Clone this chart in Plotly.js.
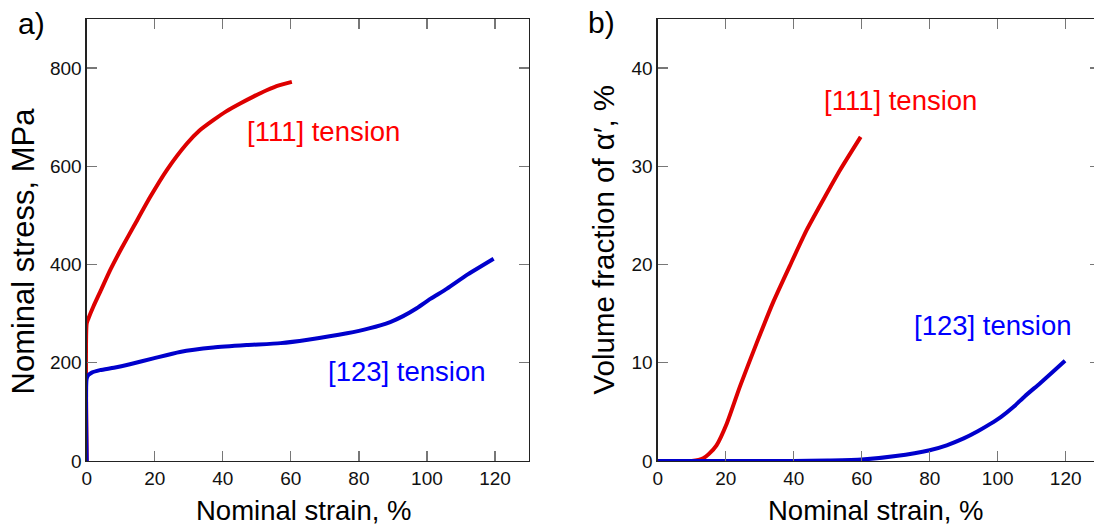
<!DOCTYPE html>
<html>
<head>
<meta charset="utf-8">
<script src="https://cdn.plot.ly/plotly-3.0.1.min.js"></script>
<style>
html, body { margin:0; padding:0; overflow:hidden; background:#fff; }
#plot { width:1100px; height:527px; }
</style>
</head>
<body>
<div id="plot"></div>
<script>
// ---- data ----
const stress111_x = [0, 0, 0.5, 2, 4, 7, 10, 14, 18.6, 23.5, 29.4, 33, 37.2, 41, 45.1, 49, 52.9, 56.5, 60.3];
const stress111_y = [0, 280, 290, 315, 345, 390, 430, 480, 537, 592, 646, 672, 694, 712, 728, 742, 755, 765, 772];
const stress123_x = [0, 0, 0.5, 1.5, 3.9, 8, 12.7, 19.6, 27.4, 37.2, 47, 57, 65, 76.5, 83, 89.2, 93, 97, 101, 105.9, 112, 119.6];
const stress123_y = [0, 168, 175, 180, 185, 190, 197, 209, 222, 231, 236, 240, 247, 260, 270, 283, 295, 311, 330, 351, 380, 412];
const frac111_x = [0, 10, 12, 13.4, 15, 17.3, 20.3, 24.2, 29.1, 34, 38.9, 43.8, 48.7, 53.6, 59.7];
const frac111_y = [0, 0, 0.1, 0.27, 0.7, 1.6, 3.8, 7.6, 12.0, 16.2, 19.9, 23.5, 26.6, 29.6, 33];
const frac123_x = [0, 40, 50, 60, 70, 80, 85, 90, 94, 97.7, 101, 104.6, 108, 112.4, 116, 119.8];
const frac123_y = [0, 0, 0.05, 0.15, 0.5, 1.1, 1.6, 2.3, 3.0, 3.75, 4.5, 5.5, 6.6, 7.9, 9.0, 10.2];
const xTicks = [0, 20, 40, 60, 80, 100, 120];
const stressTicks = [0, 200, 400, 600, 800];
const fracTicks = [0, 10, 20, 30, 40];
const label111 = "[111] tension";
const label123 = "[123] tension";

// ---- layout helpers ----
const W = 1100, H = 527, T = 19, B = 461;
const px = x => x / W;
const py = y => (B - y) / (B - T);
const RED = "#dd0000", BLUE = "#0000cc";
const FONT = "Arial, 'Liberation Sans', sans-serif";
const lineStyle = c => ({color:c, width:4, shape:'spline', smoothing:0.6});

const traces = [
  {x: stress111_x, y: stress111_y, xaxis:'x', yaxis:'y', mode:'lines', line:lineStyle(RED)},
  {x: stress123_x, y: stress123_y, xaxis:'x', yaxis:'y', mode:'lines', line:lineStyle(BLUE)},
  {x: frac111_x, y: frac111_y, xaxis:'x2', yaxis:'y2', mode:'lines', line:lineStyle(RED)},
  {x: frac123_x, y: frac123_y, xaxis:'x2', yaxis:'y2', mode:'lines', line:lineStyle(BLUE)}
];

const axBase = {
  showgrid:false, zeroline:false, showline:true, linecolor:'#222', linewidth:1.3,
  mirror:'ticks', ticks:'inside', ticklen:10, tickwidth:1.3, tickcolor:'#777',
  tickfont:{family:FONT, size:19, color:'#111'}, fixedrange:true
};

const ann = (text, x, y, size, color, angle) => ({
  text, x:px(x), y:py(y), xref:'paper', yref:'paper', showarrow:false,
  xanchor:'center', yanchor:'middle', textangle: angle || 0,
  font:{family:FONT, size, color}
});

const layout = {
  width: W, height: H, showlegend:false,
  margin:{l:0, r:0, t:T, b:H-B},
  paper_bgcolor:'#fff', plot_bgcolor:'#fff',
  font:{family:FONT},
  xaxis: Object.assign({}, axBase, {domain:[px(86.7), px(529)], range:[0,130], tickvals:xTicks, anchor:'y'}),
  yaxis: Object.assign({}, axBase, {domain:[0,1], range:[0,900], tickvals:stressTicks, anchor:'x'}),
  xaxis2: Object.assign({}, axBase, {domain:[px(657.7), px(1099.7)], range:[0,130], tickvals:xTicks, anchor:'y2'}),
  yaxis2: Object.assign({}, axBase, {domain:[0,1], range:[0,45], tickvals:fracTicks, anchor:'x2'}),
  annotations: [
    ann(label111, 323.7, 131, 27.5, '#ff0000'),
    ann(label123, 406.3, 371, 27.5, '#0000ff'),
    ann(label111, 900, 100, 27.5, '#ff0000'),
    ann(label123, 992.5, 325, 27.5, '#0000ff'),
    ann("Nominal strain, %", 304, 510, 27.5, '#000'),
    ann("Nominal strain, %", 876, 510, 27.5, '#000'),
    ann("Nominal stress, MPa", 22.5, 251, 31, '#000', -90),
    ann("Volume fraction of α′, %", 602.5, 240, 29.5, '#000', -90),
    ann("a)", 31.5, 24, 30, '#000'),
    ann("b)", 601.5, 23, 30, '#000')
  ]
};

Plotly.newPlot('plot', traces, layout, {displayModeBar:false, staticPlot:true});
</script>
</body>
</html>
